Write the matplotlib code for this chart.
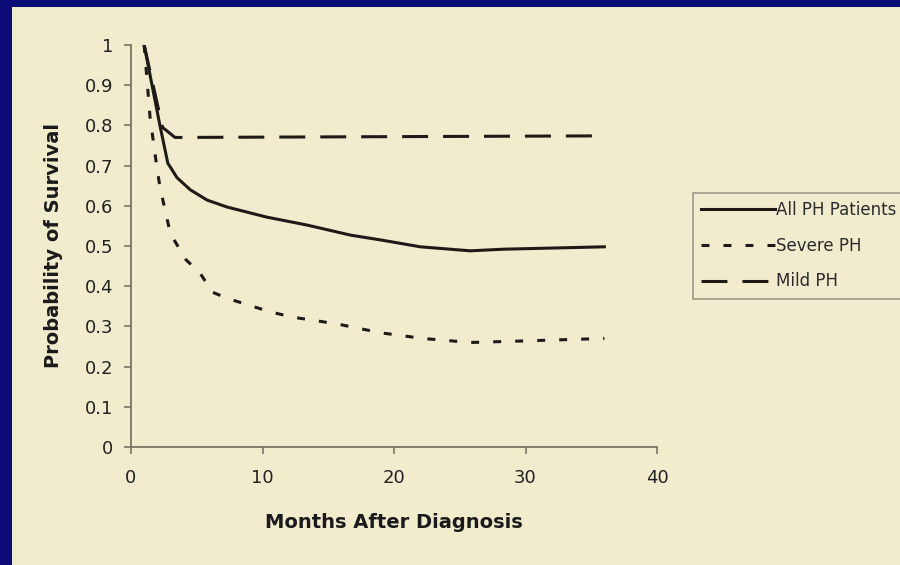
import matplotlib.pyplot as plt
from matplotlib.patches import Rectangle

# Kaplan-Meier style survival estimates (months after diagnosis)
months_all = [1, 2.2, 2.8, 3.5, 4.5, 5.8, 7.3, 10.3, 13.4, 16.7, 19, 22, 25.8, 28.3, 36]
surv_all = [1.0, 0.80, 0.706, 0.67, 0.64, 0.614, 0.597, 0.572, 0.552, 0.527, 0.515, 0.498, 0.488, 0.492, 0.498]

months_severe = [1, 1.45, 1.95, 2.2, 3.0, 4.2, 5.2, 6.2, 7.3, 10.6, 12.3, 15.7, 19, 22.2, 25.8, 29, 36]
surv_severe = [1.0, 0.82, 0.70, 0.647, 0.53, 0.465, 0.435, 0.385, 0.37, 0.336, 0.323, 0.306, 0.284, 0.27, 0.26, 0.263, 0.27]

months_mild = [1, 2.4, 3.35, 36]
surv_mild = [1.0, 0.795, 0.77, 0.774]

labels = ["All PH Patients", "Severe PH", "Mild PH"]
x_ticks = [0, 10, 20, 30, 40]
y_ticks = [0, 0.1, 0.2, 0.3, 0.4, 0.5, 0.6, 0.7, 0.8, 0.9, 1]
y_ticklabels = ["0", "0.1", "0.2", "0.3", "0.4", "0.5", "0.6", "0.7", "0.8", "0.9", "1"]

beige = "#f2eccf"
navy = "#0c0c78"
axis_col = "#7a7466"
ink = "#1e1b17"

plt.rcParams['font.family'] = ['DejaVu Sans']

W, H = 900, 565
fig = plt.figure(figsize=(9, 5.65), dpi=100, facecolor=beige)

# slide frame: dark blue strips along top and left
fig.patches.append(Rectangle((0, 1 - 7 / H), 1, 7 / H, transform=fig.transFigure,
                             facecolor=navy, edgecolor="none", zorder=0))
fig.patches.append(Rectangle((0, 0), 12 / W, 1, transform=fig.transFigure,
                             facecolor=navy, edgecolor="none", zorder=0))

ax = fig.add_axes([131 / W, (H - 447) / H, (657 - 131) / W, (447 - 45) / H])
ax.set_facecolor(beige)

l1, = ax.plot(months_all, surv_all, color=ink, lw=2.2, solid_joinstyle='round')
l2, = ax.plot(months_severe, surv_severe, color=ink, lw=2.2, dashes=(2.6, 4.6))
l3, = ax.plot(months_mild, surv_mild, color=ink, lw=2.2, dashes=(8.5, 4.9))

ax.set_xlim(0, 40)
ax.set_ylim(0, 1)
ax.set_xticks(x_ticks)
ax.set_yticks(y_ticks)
ax.set_yticklabels(y_ticklabels)

for side in ("top", "right"):
    ax.spines[side].set_visible(False)
for side in ("left", "bottom"):
    ax.spines[side].set_color(axis_col)
    ax.spines[side].set_linewidth(1.3)

ax.tick_params(axis="both", colors=axis_col, labelcolor="#222222", labelsize=13,
               length=5, width=1.2, direction="out")
ax.tick_params(axis="y", pad=8)
ax.tick_params(axis="x", pad=11)

ax.set_xlabel("Months After Diagnosis", fontsize=14, fontweight="bold", color="#1a1a1a")
ax.set_ylabel("Probability of Survival", fontsize=14, fontweight="bold", color="#1a1a1a")
ax.xaxis.set_label_coords(0.5, -0.165)
ax.yaxis.set_label_coords(-0.13, 0.5)

leg = fig.legend([l1, l2, l3], labels, loc="upper left",
                 bbox_to_anchor=(693 / W, 1 - 193 / H), bbox_transform=fig.transFigure,
                 fontsize=12, frameon=True, fancybox=False, borderpad=0.5,
                 labelspacing=1.05, handlelength=4.4, handletextpad=0.1,
                 borderaxespad=0)
leg.get_frame().set_facecolor(beige)
leg.get_frame().set_edgecolor("#8a8578")
leg.get_frame().set_linewidth(1.2)
for t in leg.get_texts():
    t.set_color("#2b2b2b")

fig.savefig("out.png", dpi=100, facecolor=beige)
